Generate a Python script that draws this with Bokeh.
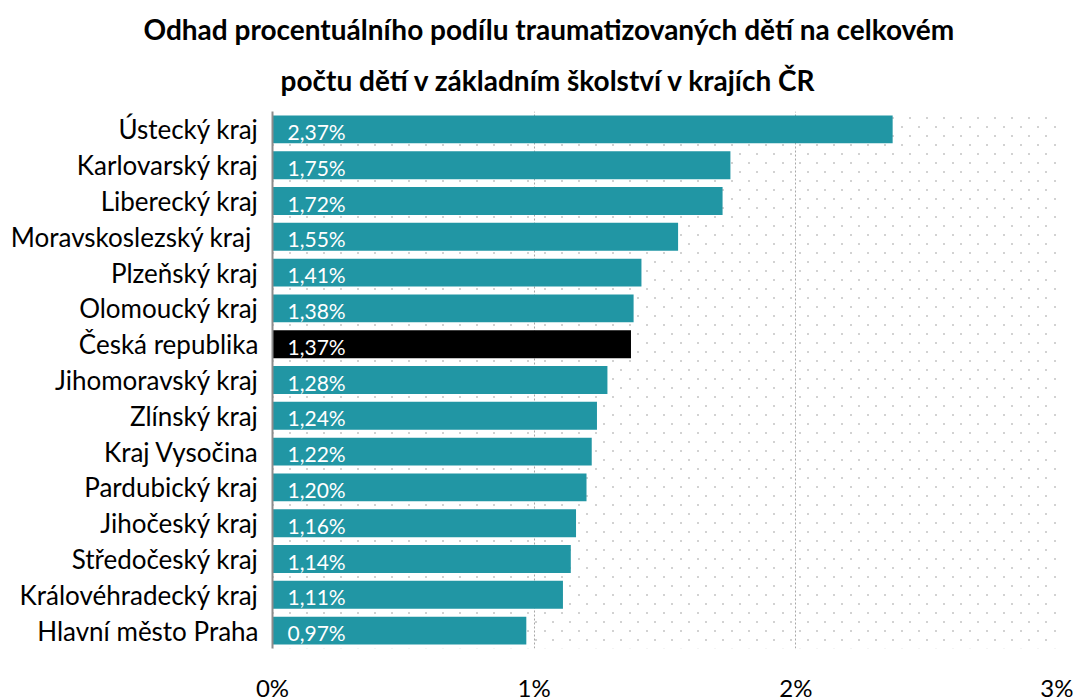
import base64
from bokeh.plotting import figure
from bokeh.models import (FactorRange, Range1d, BoxAnnotation, FixedTicker, ColumnDataSource,
                          Title, ImageURLTexture)
from bokeh.core.properties import value
from bokeh.embed import file_html
from bokeh.resources import INLINE

regions = ["Ústecký kraj", "Karlovarský kraj", "Liberecký kraj", "Moravskoslezský kraj ",
           "Plzeňský kraj", "Olomoucký kraj", "Česká republika", "Jihomoravský kraj",
           "Zlínský kraj", "Kraj Vysočina", "Pardubický kraj", "Jihočeský kraj",
           "Středočeský kraj", "Královéhradecký kraj", "Hlavní město Praha"]
shares = [2.37, 1.75, 1.72, 1.55, 1.41, 1.38, 1.37, 1.28, 1.24, 1.22, 1.20, 1.16, 1.14, 1.11, 0.97]
highlight = "Česká republika"
x_ticks = [0, 1, 2, 3]
x_tick_labels = ["0%", "1%", "2%", "3%"]
title_lines = ["Odhad procentuálního podílu traumatizovaných dětí na celkovém",
               "počtu dětí v základním školství v krajích ČR"]

TEAL = "#2196A4"
FONT = "Lato"

colors = ["#000000" if r == highlight else TEAL for r in regions]
labels = [f"{v:.2f}".replace(".", ",") + "%" for v in shares]
src = ColumnDataSource(dict(region=regions, share=shares, color=colors, label=labels,
                            zero=[0] * len(regions)))

p = figure(width=1073, height=704, output_backend="svg", toolbar_location=None,
           y_range=FactorRange(*reversed(regions), range_padding=0),
           x_range=Range1d(0, 3))
p.min_border_left = 272
p.min_border_right = 16
p.min_border_top = 111
p.min_border_bottom = 40
p.outline_line_color = None
p.background_fill_color = "white"
p.border_fill_color = "white"

p.title = None
# second line first (nearest to the plot), then first line above it
p.add_layout(Title(text=title_lines[1], align="left", offset=8, text_font=FONT,
                   text_font_style="bold", text_font_size="28px", text_color="#000000",
                   standoff=30), "above")
p.add_layout(Title(text=title_lines[0], align="left", offset=-129, text_font=FONT,
                   text_font_style="bold", text_font_size="28px", text_color="#000000",
                   standoff=0), "above")

# dotted background (staggered light-grey dot texture)
dot_svg = ('<svg xmlns="http://www.w3.org/2000/svg" width="17" height="18">'
           '<rect x="0" y="0" width="2" height="2" fill="#d2d2d2"/>'
           '<rect x="8" y="9" width="2" height="2" fill="#d2d2d2"/></svg>')
dot_url = "data:image/svg+xml;base64," + base64.b64encode(dot_svg.encode()).decode()
p.add_layout(BoxAnnotation(fill_alpha=0, line_alpha=0, hatch_pattern="dots",
                           hatch_extra={"dots": ImageURLTexture(url=dot_url)},
                           level="underlay"))

p.hbar(y="region", right="share", left=0, height=0.78, color="color", source=src,
       line_color=None)
p.text(x="zero", y="region", text="label", source=src, x_offset=15, y_offset=2,
       text_color="white", text_font=value(FONT), text_font_size="21px",
       text_baseline="middle", text_align="left")

# grid
p.ygrid.grid_line_color = None
p.xgrid.ticker = FixedTicker(ticks=x_ticks)
p.xgrid.grid_line_color = "#a8a8a8"
p.xgrid.grid_line_dash = "2 2"
p.xgrid.grid_line_width = 1

# x axis
p.xaxis.ticker = FixedTicker(ticks=x_ticks)
p.xaxis.major_label_overrides = {t_: l for t_, l in zip(x_ticks, x_tick_labels)}
p.xaxis.axis_line_color = None
p.xaxis.major_tick_line_color = None
p.xaxis.minor_tick_line_color = None
p.xaxis.major_label_standoff = 18
p.xaxis.major_label_text_font = FONT
p.xaxis.major_label_text_font_size = "24px"
p.xaxis.major_label_text_color = "#000000"

# y axis
p.yaxis.axis_line_color = "#8c8c8c"
p.yaxis.axis_line_width = 2
p.yaxis.major_tick_line_color = None
p.yaxis.minor_tick_line_color = None
p.yaxis.major_label_standoff = 8
p.yaxis.major_label_text_font = FONT
p.yaxis.major_label_text_font_size = "26px"
p.yaxis.major_label_text_color = "#000000"

open("out.html", "w").write(file_html(p, INLINE))
